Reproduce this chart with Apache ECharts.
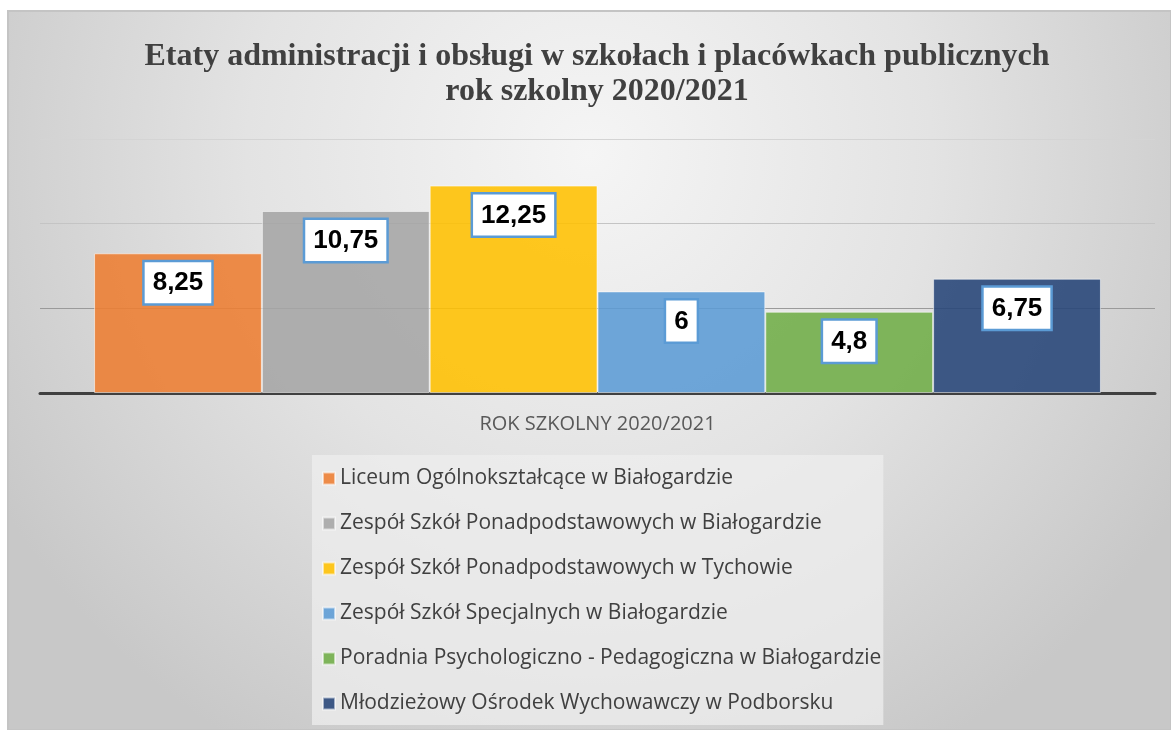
<!DOCTYPE html>
<html>
<head>
<meta charset="utf-8">
<script src="https://cdn.jsdelivr.net/npm/echarts@6/dist/echarts.min.js"></script>
<style>
  html, body { margin: 0; padding: 0; background: #fff; }
  #chart { width: 1171px; height: 730px; }
</style>
</head>
<body>
<div id="chart"></div>
<script>
'use strict';

// dane z wykresu
var categories = ['ROK SZKOLNY 2020/2021'];
var schools = [
    'Liceum Ogólnokształcące w Białogardzie',
    'Zespół Szkół Ponadpodstawowych w Białogardzie',
    'Zespół Szkół Ponadpodstawowych w Tychowie',
    'Zespół Szkół Specjalnych w Białogardzie',
    'Poradnia Psychologiczno - Pedagogiczna w Białogardzie',
    'Młodzieżowy Ośrodek Wychowawczy w Podborsku'
];
var etaty = [8.25, 10.75, 12.25, 6, 4.8, 6.75];

// kolory slupkow (lekko przezroczyste, jak w oryginale)
var colors = ['rgba(237,125,49,0.88)', 'rgba(165,165,165,0.88)', 'rgba(255,192,0,0.88)',
              'rgba(91,155,213,0.88)', 'rgba(112,173,71,0.88)', 'rgba(38,68,120,0.88)'];

var myChart = echarts.init(document.getElementById('chart'));

var series = schools.map(function (name, i) {
    return {
        name: name,
        type: 'bar',
        barGap: 0,
        barCategoryGap: '9.7%',
        data: [etaty[i]],
        itemStyle: {
            color: colors[i],
            borderColor: 'rgba(255,255,255,0.55)',
            borderWidth: 1
        },
        label: {
            show: true,
            position: 'insideTop',
            distance: 9,
            formatter: function (p) { return String(p.value).replace('.', ','); },
            fontFamily: 'Liberation Sans',
            fontWeight: 'bold',
            fontSize: 26,
            lineHeight: 30,
            color: '#000',
            backgroundColor: '#fff',
            borderColor: '#5B9BD5',
            borderWidth: 2.5,
            padding: [6, 8, 5, 8]
        }
    };
});

var option = {
    backgroundColor: '#fff',
    animation: false,
    graphic: [{
        type: 'rect',
        z: -10,
        shape: { x: 8, y: 11, width: 1163, height: 719 },
        style: {
            fill: new echarts.graphic.RadialGradient(0.5, 0.2, 0.95, [
                { offset: 0, color: '#f5f5f5' },
                { offset: 0.5, color: '#e3e3e3' },
                { offset: 1, color: '#c8c8c8' }
            ]),
            stroke: '#c4c4c4',
            lineWidth: 2
        }
    }],
    title: {
        text: 'Etaty administracji i obsługi w szkołach i placówkach publicznych\nrok szkolny 2020/2021',
        left: 592,
        top: 34,
        textAlign: 'center',
        textStyle: {
            fontFamily: 'Liberation Serif',
            fontWeight: 'bold',
            fontSize: 32,
            lineHeight: 35,
            color: '#404040'
        }
    },
    legend: {
        orient: 'vertical',
        left: 312,
        top: 455,
        padding: [13, 2, 11, 10],
        itemGap: 24,
        itemWidth: 12,
        itemHeight: 12,
        icon: 'rect',
        backgroundColor: 'rgba(238,238,238,0.75)',
        textStyle: {
            fontFamily: 'Open Sans',
            fontSize: 21,
            lineHeight: 21,
            color: '#404040'
        },
        selectedMode: false,
        data: schools
    },
    grid: {
        left: 40,
        right: 16,
        top: 139,
        bottom: 337,
        containLabel: false
    },
    xAxis: {
        type: 'category',
        data: categories,
        axisLine: { lineStyle: { color: '#404040', width: 3 } },
        axisTick: { show: false },
        axisLabel: {
            margin: 21,
            fontFamily: 'Open Sans',
            fontSize: 20,
            color: '#595959'
        }
    },
    yAxis: {
        type: 'value',
        min: 0,
        max: 15,
        interval: 5,
        axisLabel: { show: false },
        axisLine: { show: false },
        axisTick: { show: false },
        splitLine: {
            lineStyle: { color: ['#9a9a9a', '#9a9a9a', '#c4c4c4', '#d4d4d4'], width: 1.2 }
        }
    },
    series: series
};

myChart.setOption(option);
</script>
</body>
</html>
